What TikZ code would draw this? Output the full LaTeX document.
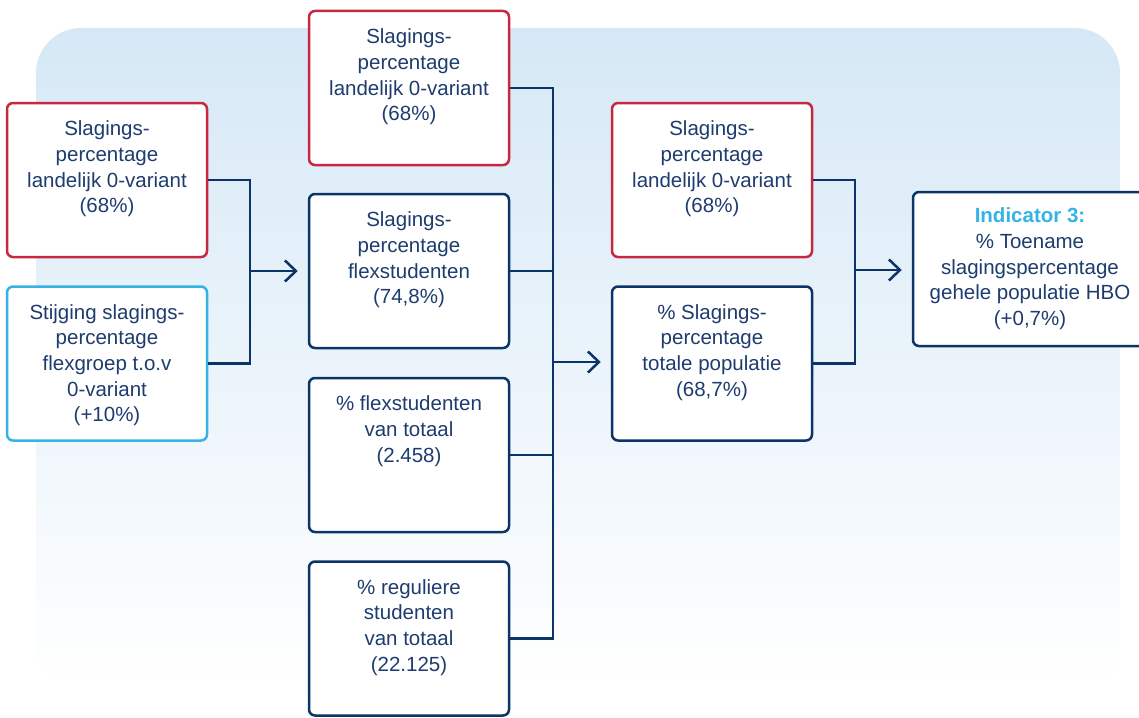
\documentclass[tikz,border=0pt]{standalone}
\usepackage{fontspec}
\setmainfont{Liberation Sans}
\usetikzlibrary{positioning,arrows.meta}
\definecolor{navy}{HTML}{0B3469}
\definecolor{inkblue}{HTML}{1E3C6E}
\definecolor{boxred}{HTML}{C7283F}
\definecolor{boxcyan}{HTML}{35B3E5}
\definecolor{bgblue}{HTML}{D6E8F6}
\begin{document}
\begin{tikzpicture}[x=1pt,y=-1pt,
  box/.style={draw=navy, line width=2.5pt, rounded corners=6pt, fill=white,
    minimum width=200pt, minimum height=154pt, inner sep=0pt},
  redbox/.style={box, draw=boxred},
  cyanbox/.style={box, draw=boxcyan},
  txt/.style={anchor=north, align=center, inner sep=0pt, text=inkblue,
    font=\fontsize{20.5}{25.6}\selectfont},
  wire/.style={draw=navy, line width=2.5pt},
  arr/.style={wire, -{Straight Barb[length=11pt,width=21pt,line width=2.5pt]}, shorten >=10pt}]
\useasboundingbox (0,0) rectangle (1139,717);
% background panel
\shade[top color=bgblue, bottom color=white, rounded corners=45pt] (36,28) rectangle (1120,690);
% left column
\node[redbox] (l1) at (107,180){};
\node[txt, below=19pt of l1.north] (l1t) {Slagings-\\percentage\\landelijk 0-variant\\(68\%)};
\node[cyanbox] (l2) at (107,363.5){};
\node[txt, below=19pt of l2.north] (l2t) {Stijging slagings-\\percentage\\flexgroep t.o.v\\0-variant\\(+10\%)};
% middle column
\node[redbox] (m1) at (409,88){};
\node[txt, below=19pt of m1.north] (m1t) {Slagings-\\percentage\\landelijk 0-variant\\(68\%)};
\node[box] (m2) at (409,271){};
\node[txt, below=19pt of m2.north] (m2t) {Slagings-\\percentage\\flexstudenten\\(74,8\%)};
\node[box] (m3) at (409,455){};
\node[txt, below=19pt of m3.north] (m3t) {\% flexstudenten\\van totaal\\(2.458)};
\node[box] (m4) at (409,638.5){};
\node[txt, below=19pt of m4.north] (m4t) {\% reguliere\\studenten\\van totaal\\(22.125)};
% right column
\node[redbox] (r1) at (712,180){};
\node[txt, below=19pt of r1.north] (r1t) {Slagings-\\percentage\\landelijk 0-variant\\(68\%)};
\node[box] (r2) at (712,363.5){};
\node[txt, below=19pt of r2.north] (r2t) {\% Slagings-\\percentage\\totale populatie\\(68,7\%)};
% indicator
\node[box, minimum width=234pt] (fin) at (1030,269){};
\node[txt, below=17pt of fin.north] (fint) {\textcolor{boxcyan}{\textbf{Indicator 3:}}\\\% Toename\\slagingspercentage\\gehele populatie HBO\\(+0,7\%)};
% connectors
\coordinate (j1) at (250,271);
\coordinate (j2) at (553,362);
\coordinate (j3) at (855,270);
\draw[wire] (l1.east) -| (j1) |- (l2.east);
\draw[arr] (j1) -- (m2.west |- j1);
\draw[wire] (m1.east) -| (j2) |- (m4.east);
\draw[wire] (m2.east) -- (m2.east -| j2);
\draw[wire] (m3.east) -- (m3.east -| j2);
\draw[arr] (j2) -- (r2.west |- j2);
\draw[wire] (r1.east) -| (j3) |- (r2.east);
\draw[arr] (j3) -- (fin.west |- j3);
\end{tikzpicture}
\end{document}
